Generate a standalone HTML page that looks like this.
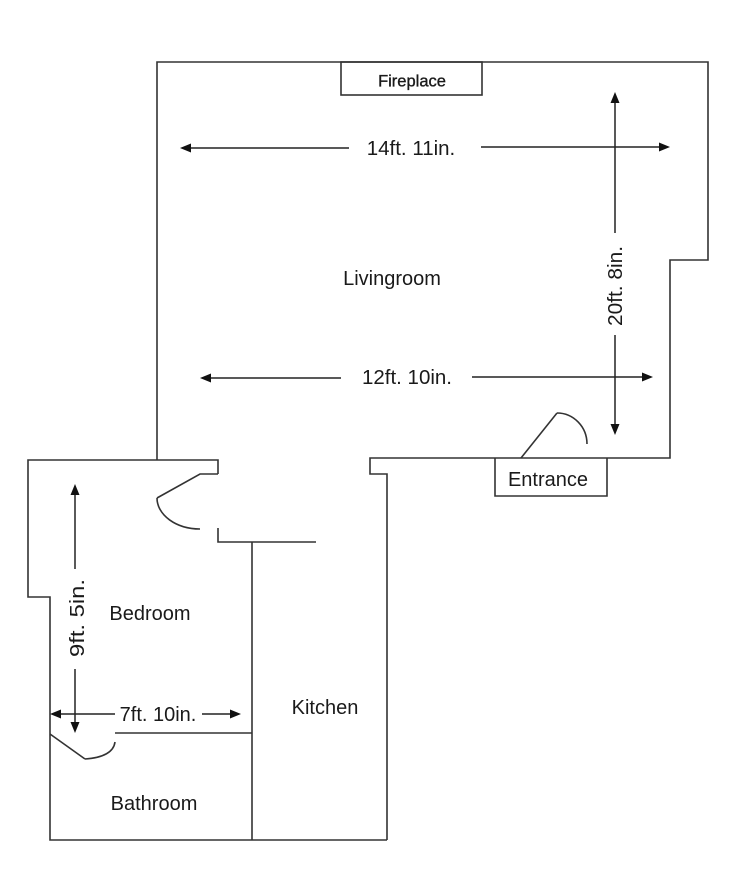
<!DOCTYPE html>
<html>
<head>
<meta charset="utf-8">
<style>
html,body{margin:0;padding:0;background:#fff;}
svg{display:block;}
text{font-family:"Liberation Sans",sans-serif;fill:#1a1a1a;}
</style>
</head>
<body>
<svg width="750" height="882" viewBox="0 0 750 882" xmlns="http://www.w3.org/2000/svg">
<rect width="750" height="882" fill="#fff"/>
<g fill="none" stroke="#333" stroke-width="1.6" stroke-linejoin="miter">
  <!-- Living room outline -->
  <polyline points="157,460 157,62 708,62 708,260 670,260 670,458 370,458 370,474 387,474 387,840"/>
  <!-- Bedroom / bathroom outline -->
  <polyline points="218,474 218,460 28,460 28,597 50,597 50,840 387,840"/>
  <!-- bedroom door stub -->
  <polyline points="218,474 200,474 157,498"/>
  <path d="M157,498 A43,31 0 0 0 200,529"/>
  <polyline points="218,528 218,542 316,542"/>
  <!-- kitchen wall -->
  <line x1="252" y1="542" x2="252" y2="840"/>
  <!-- bathroom top wall -->
  <line x1="115" y1="733" x2="252" y2="733"/>
  <!-- bathroom door -->
  <line x1="50" y1="734" x2="85" y2="759"/>
  <path d="M85,759 Q113,757 115,742"/>
  <!-- fireplace -->
  <rect x="341" y="62" width="141" height="33"/>
  <!-- entrance box -->
  <polyline points="495,458 495,496 607,496 607,458"/>
  <!-- entrance door -->
  <line x1="521" y1="458" x2="557" y2="413"/>
  <path d="M557,413 A30,31 0 0 1 587,444"/>
</g>
<g stroke="#222" stroke-width="1.5" fill="none">
  <!-- 14ft 11in -->
  <line x1="188" y1="148" x2="349" y2="148"/>
  <line x1="481" y1="147" x2="662" y2="147"/>
  <!-- 12ft 10in -->
  <line x1="208" y1="378" x2="341" y2="378"/>
  <line x1="472" y1="377" x2="645" y2="377"/>
  <!-- 20ft 8in vertical -->
  <line x1="615" y1="100" x2="615" y2="233"/>
  <line x1="615" y1="335" x2="615" y2="427"/>
  <!-- 9ft 5in vertical -->
  <line x1="75" y1="492" x2="75" y2="569"/>
  <line x1="75" y1="669" x2="75" y2="725"/>
  <!-- 7ft 10in -->
  <line x1="58" y1="714" x2="115" y2="714"/>
  <line x1="202" y1="714" x2="233" y2="714"/>
</g>
<g fill="#111" stroke="none">
  <!-- arrowheads -->
  <polygon points="180,148 191,143.5 191,152.5"/>
  <polygon points="670,147 659,142.5 659,151.5"/>
  <polygon points="200,378 211,373.5 211,382.5"/>
  <polygon points="653,377 642,372.5 642,381.5"/>
  <polygon points="615,92 610.5,103 619.5,103"/>
  <polygon points="615,435 610.5,424 619.5,424"/>
  <polygon points="75,484 70.5,495 79.5,495"/>
  <polygon points="75,733 70.5,722 79.5,722"/>
  <polygon points="50,714 61,709.5 61,718.5"/>
  <polygon points="241,714 230,709.5 230,718.5"/>
</g>
<g font-size="20">
  <text x="412" y="86.5" font-size="16.5" text-anchor="middle" stroke="#1a1a1a" stroke-width="0.35">Fireplace</text>
  <text x="411" y="155" text-anchor="middle" font-size="20.5">14ft. 11in.</text>
  <text x="392" y="285" text-anchor="middle">Livingroom</text>
  <text x="407" y="384" text-anchor="middle" font-size="20.5">12ft. 10in.</text>
  <text x="548" y="486" text-anchor="middle">Entrance</text>
  <text x="150" y="620" text-anchor="middle">Bedroom</text>
  <text x="325" y="714" text-anchor="middle">Kitchen</text>
  <text x="154" y="810" text-anchor="middle">Bathroom</text>
  <text x="158" y="721" text-anchor="middle">7ft. 10in.</text>
  <text transform="translate(622,286) rotate(-90)" text-anchor="middle" textLength="80" lengthAdjust="spacingAndGlyphs">20ft. 8in.</text>
  <text transform="translate(84,618) rotate(-90)" text-anchor="middle" textLength="78" lengthAdjust="spacingAndGlyphs">9ft. 5in.</text>
</g>
</svg>
</body>
</html>
